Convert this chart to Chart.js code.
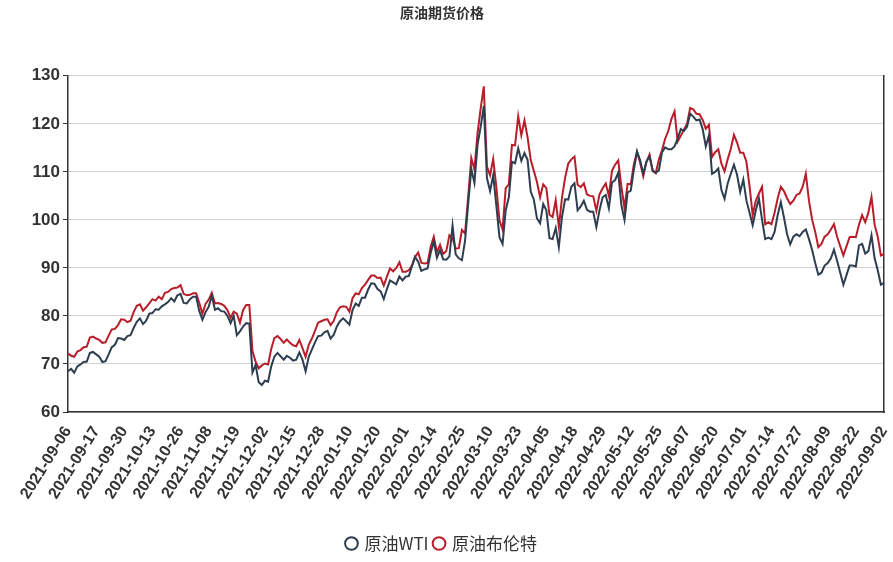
<!DOCTYPE html>
<html><head><meta charset="utf-8">
<script src="https://cdn.jsdelivr.net/npm/chart.js@4/dist/chart.umd.min.js"></script>
<style>html,body{margin:0;padding:0;background:#fff}#w{width:893px;height:562px}</style>
</head><body><div id="w"><canvas id="c"></canvas></div>
<script>
const tickLabels=["2021-09-06","2021-09-17","2021-09-30","2021-10-13","2021-10-26","2021-11-08","2021-11-19","2021-12-02","2021-12-15","2021-12-28","2022-01-10","2022-01-20","2022-02-01","2022-02-14","2022-02-25","2022-03-10","2022-03-23","2022-04-05","2022-04-18","2022-04-29","2022-05-12","2022-05-25","2022-06-07","2022-06-20","2022-07-01","2022-07-14","2022-07-27","2022-08-09","2022-08-22","2022-09-02"];
const wti=[68.5,69,68.2,69.5,69.9,70.4,70.5,72.3,72.5,
72.0,71.5,70.4,70.6,72.0,73.5,74.0,75.4,75.3,
75.0,75.8,76.0,77.5,78.8,79.5,78.3,79.0,80.5,
80.6,81.4,81.3,82.0,82.4,82.9,83.7,83.0,84.3,
84.6,82.7,82.6,83.5,84.0,84.0,81.0,79.2,80.8,
81.9,84.2,81.3,81.6,81.0,80.9,80.0,78.5,80.0,
76.0,76.8,77.8,78.5,78.4,68.2,69.8,66.2,65.6,
66.5,66.3,69.5,71.5,72.3,71.6,70.9,71.7,71.3,
70.7,70.9,72.4,70.9,68.5,71.5,73.0,74.5,75.8,
75.9,76.6,76.9,75.3,76.1,77.8,78.9,79.5,78.9,
78.2,81.2,82.6,82.1,83.8,83.8,85.5,86.8,86.7,
85.6,85.1,83.5,85.6,87.4,87.0,86.6,88.2,87.4,
88.2,88.3,90.3,92.3,91.3,89.4,89.7,89.9,93.1,
95.5,92.1,93.7,91.8,91.7,92.4,98.8,92.8,92.0,
91.6,95.7,103.4,110.6,107.7,115.7,119.4,123.7,108.7,
106.0,109.3,103.0,96.4,95.0,102.0,104.7,112.1,111.8,
114.9,112.3,113.9,112.5,105.9,104.2,100.3,99.3,103.3,
102.0,96.2,96.0,98.3,94.3,100.6,104.3,104.2,106.9,
107.6,102.0,102.8,104.0,102.1,101.7,101.7,98.5,102.0,
104.7,105.2,102.4,107.8,108.3,109.8,103.1,100.0,105.7,
106.1,110.5,114.2,112.4,109.6,112.2,113.2,110.3,109.8,
110.3,114.1,115.1,114.7,114.7,115.3,116.9,118.9,118.5,
119.4,122.1,121.5,120.7,120.9,118.9,115.3,117.6,109.6,
110.0,110.7,106.2,104.4,107.6,109.6,111.5,109.4,105.8,
108.4,104.0,101.5,98.9,102.0,104.4,100.0,96.0,96.3,
96.0,97.5,101.0,103.7,100.5,97.0,94.9,96.5,97.0,
96.6,97.5,98.0,96.0,93.8,91.0,88.6,89.0,90.5,
91.0,92.0,93.8,91.5,89.0,86.5,88.5,90.5,90.5,
90.3,94.7,95.0,93.0,93.5,96.8,92.0,89.5,86.5,
86.9];
const brent=[72.2,71.7,71.5,72.6,72.9,73.5,73.6,75.5,75.7,
75.3,75.0,74.4,74.5,75.9,77.2,77.3,78.1,79.3,
79.2,78.7,79.0,80.8,82.1,82.4,81.1,81.8,82.6,
83.5,83.2,84.0,83.5,84.8,85.0,85.6,85.8,85.9,
86.4,84.6,84.3,84.4,84.7,84.7,82.7,80.5,82.5,
83.4,84.8,82.6,82.7,82.5,82.1,81.2,79.6,80.9,
80.5,78.6,81.2,82.3,82.3,72.7,70.5,69.1,69.7,
70.1,69.9,73.1,75.4,75.8,75.2,74.4,75.1,74.4,
73.9,73.7,75.0,73.3,71.5,74.0,75.3,76.9,78.6,
78.9,79.2,79.3,78.1,79.0,80.8,81.8,82.0,81.9,
80.9,83.7,84.7,84.5,85.8,86.5,87.5,88.4,88.4,
87.9,88.0,86.3,88.2,89.9,89.3,90.0,91.2,89.2,
89.2,89.5,90.5,92.3,93.2,91.1,90.9,91.0,94.4,
96.5,93.3,94.8,92.9,93.5,96.8,96.2,94.0,94.1,
97.9,97.2,104.9,112.9,110.5,118.1,123.2,127.8,111.1,
109.3,112.7,106.9,99.9,98.0,106.6,107.4,115.6,115.5,
121.6,117.6,120.7,117.2,112.5,110.2,107.9,104.7,107.4,
106.6,101.1,100.6,104.1,98.5,104.6,108.8,111.7,112.6,
113.2,107.3,106.8,107.6,105.3,105.0,104.9,101.9,105.3,
106.6,107.6,105.0,110.2,111.5,112.4,106.9,102.5,107.5,
107.4,111.6,114.2,111.9,109.1,112.0,113.6,110.2,109.7,
112.6,114.5,116.9,118.5,121.0,122.6,116.3,117.5,118.8,
120.0,123.3,123.0,122.1,122.0,120.8,119.0,119.8,113.1,
114.1,114.7,111.7,110.1,112.6,114.8,117.7,116.1,114.0,
114.0,112.1,107.0,101.0,104.0,105.5,106.9,99.1,99.5,
99.1,101.5,104.5,106.9,106.0,104.5,103.3,104.0,105.2,
105.5,106.9,109.6,104.0,100.1,97.5,94.3,95.0,96.5,
97.0,98.0,99.1,96.5,94.5,92.6,94.5,96.4,96.5,
96.4,99.0,101.0,99.5,101.5,104.8,99.0,96.5,92.6,
92.9];
const TICK_STEP=9;
const labels=wti.map((_,i)=>i%TICK_STEP===0?tickLabels[i/TICK_STEP]:"");
const ds=(name,data,color)=>({label:name,data,borderColor:color,backgroundColor:'#fff',borderWidth:2,pointRadius:0,pointHoverRadius:0,tension:0,pointStyle:'circle'});
new Chart(document.getElementById('c'),{type:'line',
data:{labels,datasets:[ds('原油WTI',wti,'#2c3e50'),ds('原油布伦特',brent,'#b81e29')]},
options:{responsive:true,maintainAspectRatio:false,animation:false,
layout:{padding:{left:0,right:9,top:0,bottom:0}},
plugins:{title:{display:true,text:'原油期货价格',color:'#333',font:{size:14,weight:'bold',family:'Noto Sans CJK SC'},padding:{top:4,bottom:55}},
legend:{position:'bottom',labels:{usePointStyle:true,pointStyle:'circle',boxWidth:9,boxHeight:9,padding:6,color:'#333',font:{size:17,family:'Noto Sans CJK SC'}}},tooltip:{enabled:false}},
scales:{x:{grid:{display:false},border:{color:'#333',width:1.5},afterFit:s=>{s.height=117;s.paddingRight=0;s.paddingLeft=0},ticks:{autoSkip:false,maxRotation:58,minRotation:58,color:'#333',font:{size:16,weight:'bold',family:'Liberation Sans'},callback:(v,i)=>labels[i]}},
y:{min:60,max:130,afterFit:s=>{s.width=68},border:{color:'#333',width:1.5},grid:{color:'#d0d0d0',drawTicks:true,tickColor:'#333',tickLength:5},ticks:{stepSize:10,color:'#333',font:{size:17,weight:'bold',family:'Liberation Sans'}}},
y2:{position:'right',display:true,afterFit:s=>{s.width=0},grid:{display:false},border:{color:'#333',width:1.5},ticks:{display:false}}}}});
</script></body></html>
